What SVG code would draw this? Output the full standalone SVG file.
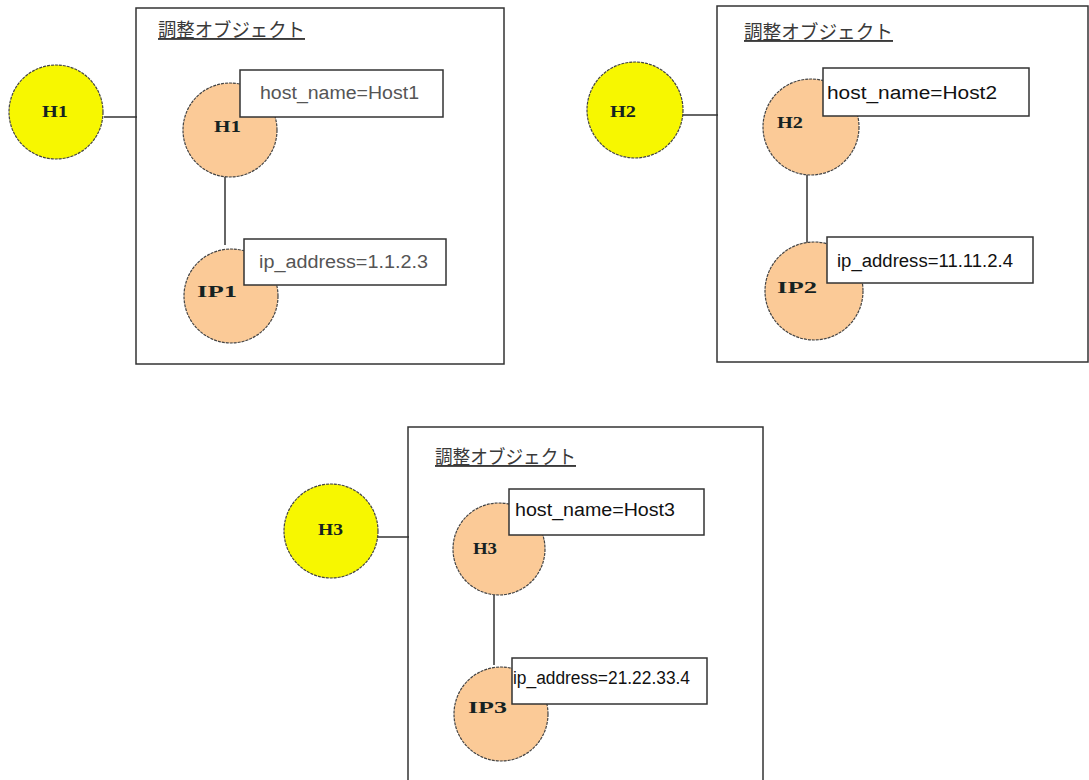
<svg xmlns="http://www.w3.org/2000/svg" width="1089" height="780" viewBox="0 0 1089 780">
<style>
.frame{fill:none;stroke:#333;stroke-width:1.5}
.title{font-family:"Liberation Sans","Noto Sans CJK JP",sans-serif;font-size:19px;fill:#3a3a3a;text-decoration:underline}
.yel{fill:#f7f700;stroke:#444;stroke-width:1.2;stroke-dasharray:3 1}
.org{fill:#fbca97;stroke:#444;stroke-width:1.2;stroke-dasharray:3 1}
.nl{font-family:"Liberation Serif",serif;font-weight:bold;font-size:17px;fill:#152222}
.box{fill:#fff;stroke:#333;stroke-width:1.5}
.bt{font-family:"Liberation Sans",Arial,sans-serif;font-size:18px;fill:#111}
.bt.g{fill:#555}
.con{stroke:#333;stroke-width:1.5;fill:none}
</style>
<rect width="1089" height="780" fill="#fff"/>
<g id="connectors">
<line class="con" x1="104" y1="117" x2="137" y2="117"/>
<line class="con" x1="225" y1="177" x2="225" y2="245"/>
<line class="con" x1="683" y1="115" x2="718" y2="115"/>
<line class="con" x1="807" y1="175" x2="807" y2="243"/>
<line class="con" x1="377" y1="537" x2="409" y2="537"/>
<line class="con" x1="494" y1="595" x2="494" y2="665"/>
</g>
<g id="panel1">
<rect class="frame" x="136" y="8" width="368" height="356"/>
<text class="title" x="158" y="37" textLength="147" lengthAdjust="spacingAndGlyphs">調整オブジェクト</text>
</g>
<g id="yellow-H1"><circle class="yel" cx="56" cy="112" r="47"/><text class="nl" x="42" y="117" textLength="26" lengthAdjust="spacingAndGlyphs">H1</text></g>
<g id="node-H1"><circle class="org" cx="230" cy="130" r="47"/><text class="nl" x="214" y="132" textLength="27" lengthAdjust="spacingAndGlyphs">H1</text></g>
<g id="label-H1"><rect class="box" x="240" y="70" width="203" height="47"/><text class="bt g" x="260" y="99" textLength="159" lengthAdjust="spacingAndGlyphs">host_name=Host1</text></g>
<g id="node-IP1"><circle class="org" cx="231" cy="296" r="47"/><text class="nl" x="197" y="297" textLength="40" lengthAdjust="spacingAndGlyphs">IP1</text></g>
<g id="label-IP1"><rect class="box" x="244" y="239" width="202" height="46"/><text class="bt g" x="259" y="268" textLength="169" lengthAdjust="spacingAndGlyphs">ip_address=1.1.2.3</text></g>

<g id="panel2">
<rect class="frame" x="717" y="6" width="371" height="356"/>
<text class="title" x="744" y="39" textLength="149" lengthAdjust="spacingAndGlyphs">調整オブジェクト</text>
</g>
<g id="yellow-H2"><circle class="yel" cx="635" cy="110" r="48"/><text class="nl" x="610" y="117" textLength="26" lengthAdjust="spacingAndGlyphs">H2</text></g>
<g id="node-H2"><circle class="org" cx="811" cy="127" r="48"/><text class="nl" x="777" y="128" textLength="26" lengthAdjust="spacingAndGlyphs">H2</text></g>
<g id="label-H2"><rect class="box" x="823" y="68" width="206" height="48"/><text class="bt" x="827" y="99" textLength="170" lengthAdjust="spacingAndGlyphs">host_name=Host2</text></g>
<g id="node-IP2"><circle class="org" cx="814" cy="291" r="49"/><text class="nl" x="777" y="293" textLength="40" lengthAdjust="spacingAndGlyphs">IP2</text></g>
<g id="label-IP2"><rect class="box" x="827" y="237" width="206" height="46"/><text class="bt" x="837" y="267" textLength="176" lengthAdjust="spacingAndGlyphs">ip_address=11.11.2.4</text></g>

<g id="panel3">
<rect class="frame" x="408" y="427" width="355" height="360"/>
<text class="title" x="435" y="464" textLength="141" lengthAdjust="spacingAndGlyphs">調整オブジェクト</text>
</g>
<g id="yellow-H3"><circle class="yel" cx="331" cy="531" r="47"/><text class="nl" x="318" y="535" textLength="25" lengthAdjust="spacingAndGlyphs">H3</text></g>
<g id="node-H3"><circle class="org" cx="499" cy="549" r="46"/><text class="nl" x="473" y="554" textLength="24" lengthAdjust="spacingAndGlyphs">H3</text></g>
<g id="label-H3"><rect class="box" x="509" y="489" width="195" height="46"/><text class="bt" x="515" y="516" textLength="160" lengthAdjust="spacingAndGlyphs">host_name=Host3</text></g>
<g id="node-IP3"><circle class="org" cx="501" cy="714" r="47"/><text class="nl" x="468" y="713" textLength="39" lengthAdjust="spacingAndGlyphs">IP3</text></g>
<g id="label-IP3"><rect class="box" x="512" y="658" width="195" height="46"/><text class="bt" x="513" y="684" textLength="177" lengthAdjust="spacingAndGlyphs">ip_address=21.22.33.4</text></g>
</svg>
